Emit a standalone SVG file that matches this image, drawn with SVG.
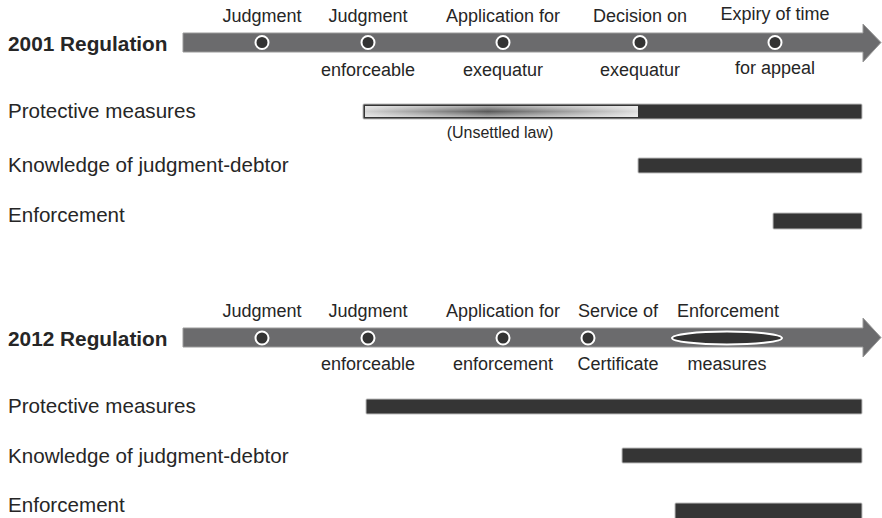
<svg xmlns="http://www.w3.org/2000/svg" width="882" height="518" viewBox="0 0 882 518">
<defs>
<style>
text{font-family:"Liberation Sans",Arial,sans-serif;fill:#262626}
.t{font-size:20.8px;font-weight:bold}
.row{font-size:20.6px}
.lbl{font-size:18px;text-anchor:middle}
.sm{font-size:16px;text-anchor:middle}
.arrow{fill:#6b6b6d;stroke:#9a9a9a;stroke-width:1}
.dot{fill:#333;stroke:#fff;stroke-width:2}
.bar{fill:#353535;stroke:#bdbdbd;stroke-width:1}
</style>
<linearGradient id="ug" x1="0" y1="0" x2="1" y2="0">
<stop offset="0" stop-color="#d4d4d4"/>
<stop offset="0.45" stop-color="#5a5a5a"/>
<stop offset="1" stop-color="#dedede"/>
</linearGradient>
<linearGradient id="uv" x1="0" y1="0" x2="0" y2="1">
<stop offset="0" stop-color="#fff" stop-opacity="0.5"/>
<stop offset="0.5" stop-color="#fff" stop-opacity="0"/>
<stop offset="1" stop-color="#fff" stop-opacity="0.5"/>
</linearGradient>
</defs>
<rect width="882" height="518" fill="#fff"/>

<g id="timeline2001">
<text class="t" x="8" y="51">2001 Regulation</text>
<polygon class="arrow" points="183,33 863,33 863,24 881,42.5 863,62 863,52 183,52"/>
<circle class="dot" cx="262" cy="42.5" r="6.5"/>
<circle class="dot" cx="368" cy="42.5" r="6.5"/>
<circle class="dot" cx="503" cy="42.5" r="6.5"/>
<circle class="dot" cx="640" cy="42.5" r="6.5"/>
<circle class="dot" cx="775" cy="42.5" r="6.5"/>
<text class="lbl" x="262" y="22">Judgment</text>
<text class="lbl" x="368" y="22">Judgment</text>
<text class="lbl" x="503" y="22">Application for</text>
<text class="lbl" x="640" y="22">Decision on</text>
<text class="lbl" x="775" y="20">Expiry of time</text>
<text class="lbl" x="368" y="76">enforceable</text>
<text class="lbl" x="503" y="76">exequatur</text>
<text class="lbl" x="640" y="76">exequatur</text>
<text class="lbl" x="775" y="74">for appeal</text>
</g>

<g id="rows2001">
<text class="row" x="8" y="118">Protective measures</text>
<rect class="bar" x="363" y="104" width="499" height="15" rx="1"/>
<rect x="365" y="106" width="273" height="11" fill="url(#ug)"/>
<rect x="365" y="106" width="273" height="11" fill="url(#uv)"/>
<text class="sm" x="500" y="138">(Unsettled law)</text>
<text class="row" x="8" y="172">Knowledge of judgment-debtor</text>
<rect class="bar" x="638" y="158" width="224" height="15" rx="1"/>
<text class="row" x="8" y="222">Enforcement</text>
<rect class="bar" x="773" y="213" width="89" height="16" rx="1"/>
</g>

<g id="timeline2012">
<text class="t" x="8" y="346">2012 Regulation</text>
<polygon class="arrow" points="183,328 863,328 863,318 881,337.5 863,357 863,347 183,347"/>
<circle class="dot" cx="262" cy="338" r="6.5"/>
<circle class="dot" cx="368" cy="338" r="6.5"/>
<circle class="dot" cx="503" cy="338" r="6.5"/>
<circle class="dot" cx="588" cy="338" r="6.5"/>
<ellipse class="dot" cx="727" cy="338" rx="55" ry="6.5"/>
<text class="lbl" x="262" y="317">Judgment</text>
<text class="lbl" x="368" y="317">Judgment</text>
<text class="lbl" x="503" y="317">Application for</text>
<text class="lbl" x="618" y="317">Service of</text>
<text class="lbl" x="728" y="317">Enforcement</text>
<text class="lbl" x="368" y="370">enforceable</text>
<text class="lbl" x="503" y="370">enforcement</text>
<text class="lbl" x="618" y="370">Certificate</text>
<text class="lbl" x="727" y="370">measures</text>
</g>

<g id="rows2012">
<text class="row" x="8" y="413">Protective measures</text>
<rect class="bar" x="366" y="399" width="496" height="15" rx="1"/>
<text class="row" x="8" y="463">Knowledge of judgment-debtor</text>
<rect class="bar" x="622" y="448" width="240" height="15" rx="1"/>
<text class="row" x="8" y="512">Enforcement</text>
<rect class="bar" x="675" y="503" width="187" height="17" rx="1"/>
</g>
</svg>
